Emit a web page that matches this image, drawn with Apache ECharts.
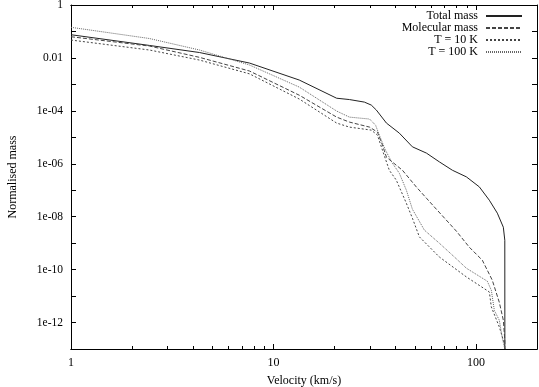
<!DOCTYPE html>
<html>
<head>
<meta charset="utf-8">
<script src="https://cdn.jsdelivr.net/npm/echarts@6/dist/echarts.min.js"></script>
<style>
  html, body { margin: 0; padding: 0; background: #fff; }
  #main { width: 539px; height: 387px; }
</style>
</head>
<body>
<div id="main"></div>
<script>
// series names
var names = ['Total mass', 'Molecular mass', 'T = 10 K', 'T = 100 K'];

// velocity (km/s) / normalised mass
var totalV = [1, 2.44, 4.31, 7.61, 13.4, 20.5, 23.7, 28.1, 30.4, 32.2, 36.1, 41.8, 48.5, 56.9, 65.9, 76.4, 89.6, 103.8, 116.3, 127.4, 136.4, 138.7, 138.8];
var totalM = [0.0753, 0.0296, 0.016, 6.4e-3, 1.46e-3, 3.0e-4, 2.67e-4, 2.14e-4, 1.65e-4, 1.07e-4, 3.45e-5, 1.44e-5, 4.37e-6, 2.53e-6, 1.18e-6, 5.7e-7, 3.2e-7, 1.34e-7, 4.2e-8, 1.36e-8, 4.0e-9, 1.29e-9, 1e-13];

var molV = [1, 2.44, 4.31, 7.61, 13.4, 20.5, 23.7, 29.8, 32.6, 34.5, 36.1, 43.3, 50.8, 56.9, 63.7, 80.0, 92.7, 107.4, 120.3, 130.3, 136.4, 138.7, 138.8];
var molM = [0.0632, 0.0281, 0.0105, 3.2e-3, 3.9e-4, 5.8e-5, 3.76e-5, 2.43e-5, 1.57e-5, 5.1e-6, 1.78e-6, 5.7e-7, 1.31e-7, 5.0e-8, 1.92e-8, 2.83e-9, 7.0e-10, 2.27e-10, 3.97e-11, 5.8e-12, 1.22e-12, 2.14e-13, 1e-13];

var t10V = [1, 2.44, 4.31, 7.61, 13.4, 20.5, 23.7, 30.4, 32.6, 34.5, 37.3, 40.4, 45.3, 48.5, 52.5, 65.9, 89.6, 116.3, 119.0, 130.3, 137.9, 138.7];
var t10M = [0.0474, 0.0199, 8.3e-3, 2.5e-3, 2.8e-4, 3.45e-5, 2.43e-5, 1.87e-5, 1.21e-5, 3.28e-6, 5.7e-7, 2.4e-7, 3.2e-8, 8.8e-9, 1.73e-9, 3.0e-10, 5.3e-11, 1.43e-11, 3.9e-12, 6.8e-13, 1.64e-13, 1e-13];

var t100V = [1, 2.44, 4.31, 7.61, 13.4, 20.5, 23.7, 29.8, 31.9, 33.3, 35.7, 38.6, 41.8, 45.3, 48.5, 55.6, 65.9, 78.2, 89.6, 113.7, 119.0, 123.1, 130.3, 134.9, 138.7];
var t100M = [0.1435, 0.0541, 0.0199, 5.4e-3, 7.9e-4, 9.8e-5, 5.8e-5, 4.9e-5, 2.89e-5, 1.21e-5, 3.28e-6, 1.06e-6, 4.4e-7, 1.0e-7, 1.92e-8, 3.1e-9, 9.95e-10, 3.0e-10, 1.13e-10, 3.64e-11, 1.66e-11, 2.9e-12, 1.22e-12, 2.54e-13, 1e-13];

// tick positions
var xMajor = [1, 10, 100];
var xMinor = [2, 3, 4, 5, 6, 7, 8, 9, 20, 30, 40, 50, 60, 70, 80, 90, 200];

function zip(a, b) {
    return a.map(function (v, i) { return [v, b[i]]; });
}

var font = 'Liberation Serif';

function yLabel(v) {
    var e = Math.round(Math.log10(v));
    if (e % 2 !== 0) return '';
    if (e === 0) return '1';
    if (e === -2) return '0.01';
    var n = -e;
    return '1e-' + (n < 10 ? '0' + n : n);
}

var baseX = {
    type: 'log', logBase: 10, min: 1, max: 200,
    axisLine: { onZero: false, lineStyle: { color: '#000', width: 1 } },
    splitLine: { show: false },
    axisLabel: { show: false },
    nameTextStyle: { fontFamily: font, fontSize: 12, color: '#000' }
};

var chart = echarts.init(document.getElementById('main'));
chart.setOption({
    animation: false,
    grid: { left: 71, right: 2, top: 5, bottom: 38, containLabel: false, outerBoundsMode: 'none' },
    legend: {
        orient: 'vertical', right: 16, top: 10, align: 'right', padding: 0,
        itemWidth: 36, itemHeight: 8, itemGap: 0,
        itemStyle: { opacity: 0 },
        textStyle: { fontFamily: font, fontSize: 12, color: '#000', lineHeight: 11.7, padding: [0, 3, 0, 0] },
        data: names
    },
    xAxis: [
        Object.assign({}, baseX, {
            position: 'bottom',
            name: 'Velocity (km/s)', nameLocation: 'middle', nameGap: 26,
            axisTick: { inside: true, length: 5, customValues: xMajor, lineStyle: { color: '#000' } },
            axisLabel: { show: true, customValues: xMajor, margin: 8, fontFamily: font, fontSize: 12, color: '#000' }
        }),
        Object.assign({}, baseX, {
            position: 'bottom',
            axisTick: { inside: true, length: 3, customValues: xMinor, lineStyle: { color: '#000' } }
        }),
        Object.assign({}, baseX, {
            position: 'top',
            axisTick: { inside: true, length: 5, customValues: xMajor, lineStyle: { color: '#000' } }
        }),
        Object.assign({}, baseX, {
            position: 'top',
            axisTick: { inside: true, length: 3, customValues: xMinor, lineStyle: { color: '#000' } }
        })
    ],
    yAxis: [
        {
            type: 'log', logBase: 10, min: 1e-13, max: 1, interval: 1,
            position: 'left',
            name: 'Normalised mass', nameLocation: 'middle', nameGap: 52,
            nameTextStyle: { fontFamily: font, fontSize: 12, color: '#000' },
            axisLine: { onZero: false, lineStyle: { color: '#000', width: 1 } },
            axisTick: { inside: true, length: 5, lineStyle: { color: '#000' } },
            axisLabel: { formatter: yLabel, margin: 8, fontFamily: font, fontSize: 11.5, color: '#000' },
            splitLine: { show: false }
        },
        {
            type: 'log', logBase: 10, min: 1e-13, max: 1, interval: 1,
            position: 'right',
            axisLine: { onZero: false, lineStyle: { color: '#000', width: 1 } },
            axisTick: { inside: true, length: 5, lineStyle: { color: '#000' } },
            axisLabel: { show: false },
            splitLine: { show: false }
        }
    ],
    series: [
        { name: names[0], type: 'line', data: zip(totalV, totalM), symbol: 'none',
          lineStyle: { color: '#222', width: 1, type: 'solid' }, itemStyle: { color: '#222' } },
        { name: names[1], type: 'line', data: zip(molV, molM), symbol: 'none',
          lineStyle: { color: '#444', width: 1, type: [4, 2] }, itemStyle: { color: '#444' } },
        { name: names[2], type: 'line', data: zip(t10V, t10M), symbol: 'none',
          lineStyle: { color: '#444', width: 1, type: [2, 2] }, itemStyle: { color: '#444' } },
        { name: names[3], type: 'line', data: zip(t100V, t100M), symbol: 'none',
          lineStyle: { color: '#666', width: 1, type: [1, 1] }, itemStyle: { color: '#666' } }
    ]
});
</script>
</body>
</html>
